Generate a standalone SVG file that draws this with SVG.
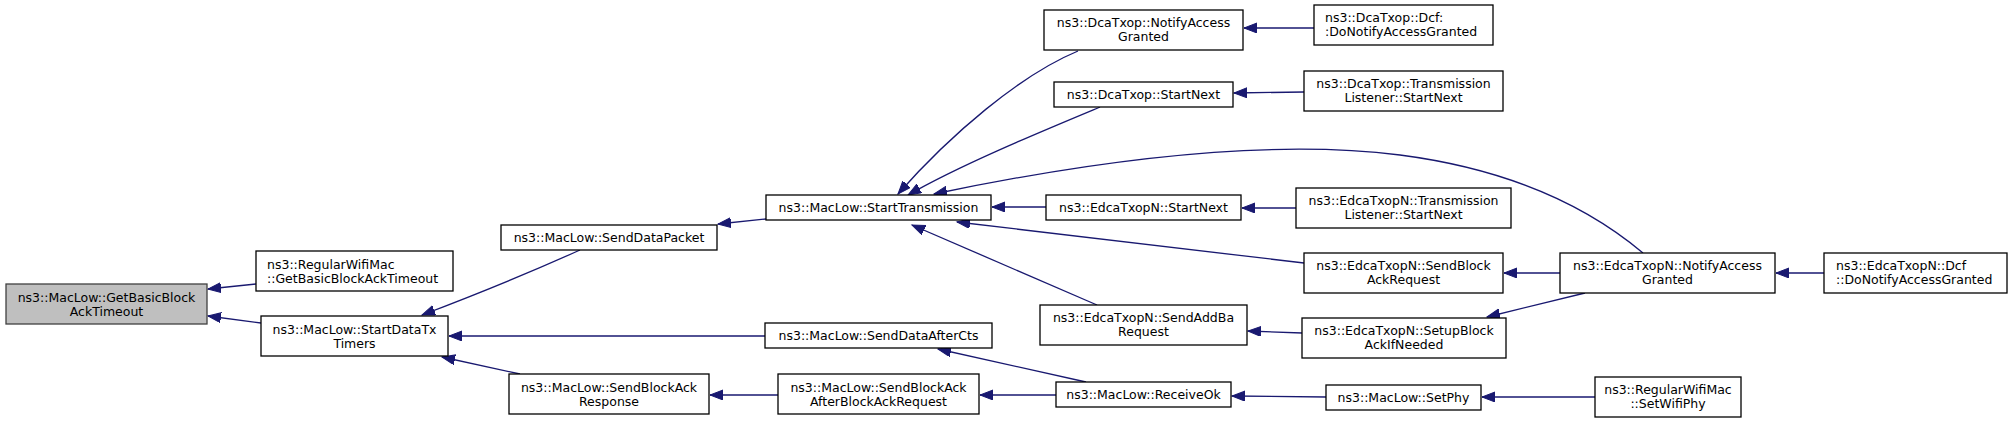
<svg xmlns="http://www.w3.org/2000/svg" width="2013" height="423" viewBox="0 0 2013 423">
<style>
.box{fill:#ffffff;stroke:#000000;stroke-width:1.3}
.cur{fill:#bfbfbf;stroke:#404040;stroke-width:1.3}
text{font-family:"DejaVu Sans","Liberation Sans",sans-serif;font-size:12.5px;fill:#000000}
.c{text-anchor:middle}
.l{text-anchor:start}
.e{fill:none;stroke:#191970;stroke-width:1.3}
</style>
<defs>
<marker id="ah" markerUnits="userSpaceOnUse" markerWidth="15" markerHeight="11" refX="13" refY="5" orient="auto" viewBox="0 0 15 11">
<path d="M0,0 L13,5 L0,10 Z" fill="#191970" stroke="#191970" stroke-width="1"/>
</marker>
</defs>
<rect width="2013" height="423" fill="#ffffff"/>
<g id="edges">
<path class="e" marker-end="url(#ah)" d="M256,284 L208,289"/>
<path class="e" marker-end="url(#ah)" d="M261,323 L208,316"/>
<path class="e" marker-end="url(#ah)" d="M580,250 C540,268 480,293 422,315"/>
<path class="e" marker-end="url(#ah)" d="M765,336 L449,336"/>
<path class="e" marker-end="url(#ah)" d="M520,374 L442,357"/>
<path class="e" marker-end="url(#ah)" d="M766,219 L718,224"/>
<path class="e" marker-end="url(#ah)" d="M778,395 L710,395"/>
<path class="e" marker-end="url(#ah)" d="M1086,382 L938,349"/>
<path class="e" marker-end="url(#ah)" d="M1056,395 L980,395"/>
<path class="e" marker-end="url(#ah)" d="M1326,397 L1232,396"/>
<path class="e" marker-end="url(#ah)" d="M1595,397 L1482,397"/>
<path class="e" marker-end="url(#ah)" d="M1078,51 C1020,75 950,135 898,194"/>
<path class="e" marker-end="url(#ah)" d="M1100,107 C1040,132 960,165 908,195"/>
<path class="e" marker-end="url(#ah)" d="M1643,253 C1580,200 1500,168 1400,155 C1280,140 1120,155 934,194"/>
<path class="e" marker-end="url(#ah)" d="M1046,207 L992,207"/>
<path class="e" marker-end="url(#ah)" d="M1304,263 L957,222"/>
<path class="e" marker-end="url(#ah)" d="M1097,305 L912,225"/>
<path class="e" marker-end="url(#ah)" d="M1314,28 L1244,28"/>
<path class="e" marker-end="url(#ah)" d="M1304,92 L1234,93"/>
<path class="e" marker-end="url(#ah)" d="M1296,208 L1242,208"/>
<path class="e" marker-end="url(#ah)" d="M1560,273 L1504,273"/>
<path class="e" marker-end="url(#ah)" d="M1585,293 L1487,317"/>
<path class="e" marker-end="url(#ah)" d="M1302,333 L1248,331"/>
<path class="e" marker-end="url(#ah)" d="M1824,273 L1776,273"/>
</g>
<g id="n1"><rect class="cur" x="6" y="284" width="201" height="40"/><text class="c" x="106.5" y="301.5">ns3::MacLow::GetBasicBlock</text><text class="c" x="106.5" y="315.5">AckTimeout</text></g>
<g id="n2"><rect class="box" x="256" y="251" width="197" height="40"/><text class="l" x="267" y="268.5">ns3::RegularWifiMac</text><text class="l" x="267" y="282.5">::GetBasicBlockAckTimeout</text></g>
<g id="n3"><rect class="box" x="261" y="316" width="187" height="40"/><text class="c" x="354.5" y="333.5">ns3::MacLow::StartDataTx</text><text class="c" x="354.5" y="347.5">Timers</text></g>
<g id="n4"><rect class="box" x="501" y="225" width="216" height="25"/><text class="c" x="609" y="242">ns3::MacLow::SendDataPacket</text></g>
<g id="n5"><rect class="box" x="766" y="195" width="225" height="25"/><text class="c" x="878.5" y="212">ns3::MacLow::StartTransmission</text></g>
<g id="n6"><rect class="box" x="765" y="323" width="227" height="25"/><text class="c" x="878.5" y="340">ns3::MacLow::SendDataAfterCts</text></g>
<g id="n7"><rect class="box" x="509" y="374" width="200" height="40"/><text class="c" x="609" y="391.5">ns3::MacLow::SendBlockAck</text><text class="c" x="609" y="405.5">Response</text></g>
<g id="n8"><rect class="box" x="778" y="374" width="201" height="40"/><text class="c" x="878.5" y="391.5">ns3::MacLow::SendBlockAck</text><text class="c" x="878.5" y="405.5">AfterBlockAckRequest</text></g>
<g id="n9"><rect class="box" x="1044" y="10" width="199" height="40"/><text class="c" x="1143.5" y="27">ns3::DcaTxop::NotifyAccess</text><text class="c" x="1143.5" y="41">Granted</text></g>
<g id="n10"><rect class="box" x="1314" y="5" width="179" height="40"/><text class="l" x="1325" y="22">ns3::DcaTxop::Dcf:</text><text class="l" x="1325" y="36">:DoNotifyAccessGranted</text></g>
<g id="n11"><rect class="box" x="1054" y="82" width="179" height="25"/><text class="c" x="1143.5" y="99">ns3::DcaTxop::StartNext</text></g>
<g id="n12"><rect class="box" x="1304" y="71" width="199" height="40"/><text class="c" x="1403.5" y="88">ns3::DcaTxop::Transmission</text><text class="c" x="1403.5" y="102">Listener::StartNext</text></g>
<g id="n13"><rect class="box" x="1046" y="195" width="195" height="25"/><text class="c" x="1143.5" y="212">ns3::EdcaTxopN::StartNext</text></g>
<g id="n14"><rect class="box" x="1296" y="188" width="215" height="40"/><text class="c" x="1403.5" y="205">ns3::EdcaTxopN::Transmission</text><text class="c" x="1403.5" y="219">Listener::StartNext</text></g>
<g id="n15"><rect class="box" x="1304" y="253" width="199" height="40"/><text class="c" x="1403.5" y="270">ns3::EdcaTxopN::SendBlock</text><text class="c" x="1403.5" y="284">AckRequest</text></g>
<g id="n16"><rect class="box" x="1040" y="305" width="207" height="40"/><text class="c" x="1143.5" y="322">ns3::EdcaTxopN::SendAddBa</text><text class="c" x="1143.5" y="336">Request</text></g>
<g id="n17"><rect class="box" x="1302" y="318" width="204" height="40"/><text class="c" x="1404" y="335">ns3::EdcaTxopN::SetupBlock</text><text class="c" x="1404" y="349">AckIfNeeded</text></g>
<g id="n18"><rect class="box" x="1056" y="382" width="175" height="25"/><text class="c" x="1143.5" y="399">ns3::MacLow::ReceiveOk</text></g>
<g id="n19"><rect class="box" x="1326" y="385" width="155" height="25"/><text class="c" x="1403.5" y="402">ns3::MacLow::SetPhy</text></g>
<g id="n20"><rect class="box" x="1560" y="253" width="215" height="40"/><text class="c" x="1667.5" y="270">ns3::EdcaTxopN::NotifyAccess</text><text class="c" x="1667.5" y="284">Granted</text></g>
<g id="n21"><rect class="box" x="1824" y="253" width="183" height="40"/><text class="l" x="1836" y="270">ns3::EdcaTxopN::Dcf</text><text class="l" x="1836" y="284">::DoNotifyAccessGranted</text></g>
<g id="n22"><rect class="box" x="1595" y="377" width="146" height="40"/><text class="c" x="1668" y="394">ns3::RegularWifiMac</text><text class="c" x="1668" y="408">::SetWifiPhy</text></g>
</svg>
